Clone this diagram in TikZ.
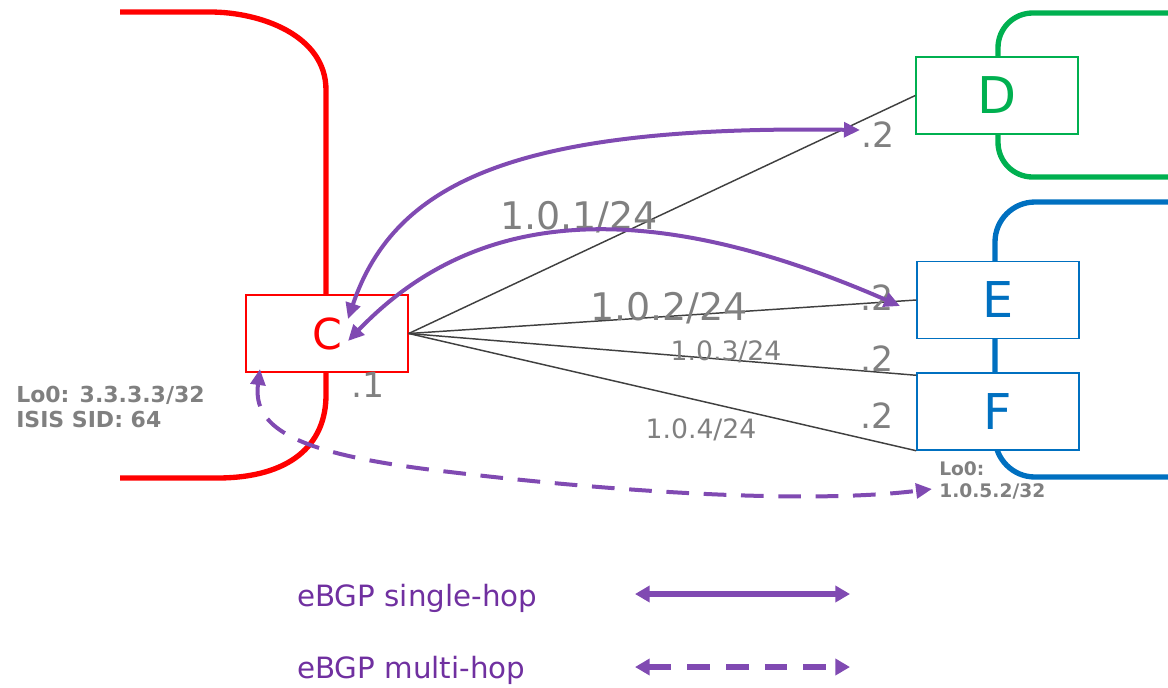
\documentclass[tikz,border=0pt]{standalone}
\usepackage{fontspec}
\setmainfont{DejaVu Sans}
\usetikzlibrary{arrows.meta,calc}
\definecolor{cred}{RGB}{255,0,0}
\definecolor{cgreen}{RGB}{0,176,80}
\definecolor{cblue}{RGB}{0,112,192}
\definecolor{cpurple}{RGB}{128,74,178}
\definecolor{ctext}{RGB}{112,48,160}
\definecolor{cgray}{RGB}{128,128,128}
\begin{document}
\begin{tikzpicture}[x=0.75pt,y=-0.75pt,
  router/.style={draw,line width=1.1pt,fill=white,minimum width=121.5pt,minimum height=57.75pt,inner sep=0pt},
  region/.style={line width=4pt},
  link/.style={draw=black!75,line width=1.1pt},
  bgp/.style={draw=cpurple,line width=3pt,{Triangle[length=12pt,width=11pt]}-{Triangle[length=12pt,width=11pt]}},
  legarrow/.style={draw=cpurple,line width=3.8pt,{Triangle[length=11pt,width=12pt]}-{Triangle[length=11pt,width=12pt]}},
  mh/.style={dash pattern=on 17pt off 11pt},
  mhleg/.style={dash pattern=on 17pt off 12pt},
  big/.style={text=cgray,inner sep=0pt,anchor=base,font={\fontsize{28.5}{32}\selectfont}},
  small/.style={text=cgray,inner sep=0pt,anchor=base,font={\fontsize{20}{23}\selectfont}},
  dot/.style={text=cgray,inner sep=0pt,anchor=base,font={\fontsize{26}{30}\selectfont}},
  lo/.style={text=cgray,inner sep=0pt,anchor=north west,align=left},
  legtext/.style={text=ctext,inner sep=0pt,anchor=base west,font={\fontsize{22}{25}\selectfont}}
]
\useasboundingbox (0,0) rectangle (1168,687);
% regions
\draw[region,cred] (120,12) -- (210,12) .. controls (260,12) and (326,35) .. (326,90)
  -- (326,395) .. controls (326,445) and (290,478) .. (217,478) -- (120,478);
\draw[region,cgreen,rounded corners=26pt] (1170,13) -- (998,13) -- (998,177) -- (1170,177);
\draw[region,cblue,rounded corners=30pt] (1170,202) -- (995,202) -- (995,477) -- (1170,477);
% routers
\node[router,draw=cred,text=cred,font={\fontsize{32}{36}\selectfont}] (C) at (327,333.5) {C};
\node[router,draw=cgreen,text=cgreen,font={\fontsize{38}{42}\selectfont}] (D) at (997,95.5) {D};
\node[router,draw=cblue,text=cblue,font={\fontsize{37}{42}\selectfont}] (E) at (998,300) {E};
\node[router,draw=cblue,text=cblue,font={\fontsize{37}{42}\selectfont}] (F) at (998,411.5) {F};
% links
\draw[link] (C.east) -- (D.west);
\draw[link] (C.east) -- (E.west);
\draw[link] (C.east) -- ($(F.north west)+(0,3)$);
\draw[link] (C.east) -- (F.south west);
% labels
\node[big] (l1) at (579,229) {1.0.1/24};
\node[big] (l2) at (669,320) {1.0.2/24};
\node[small] (l3) at (726,360) {1.0.3/24};
\node[small] (l4) at (701,438) {1.0.4/24};
\node[dot] (dD) at (878,147) {.2};
\node[dot] (dE) at (877,310) {.2};
\node[dot] (dF1) at (877,371) {.2};
\node[dot] (dF2) at (877,428) {.2};
\node[dot] (dC) at (368,397) {.1};
\node[lo,font={\fontsize{16.5}{18.4}\selectfont\bfseries}] (loC) at (16,386) {Lo0: 3.3.3.3/32\\ISIS SID: 64};
\node[lo,font={\fontsize{14}{16.5}\selectfont\bfseries}] (loF) at (939,461) {Lo0:\\1.0.5.2/32};
% bgp sessions
\coordinate (cA) at (348,319);
\coordinate (cB) at (348,341);
\coordinate (cM) at (260,369);
\coordinate (dA) at (860,130);
\coordinate (eA) at (900,306);
\coordinate (fA) at (932,489);
\draw[bgp] (cA) .. controls (395,180) and (520,125) .. (dA);
\draw[bgp] (cB) .. controls (450,235) and (600,175) .. (eA);
\draw[bgp,mh] (cM) .. controls (252,430) and (300,455) .. (450,472) .. controls (600,490) and (800,505) .. (fA);
% legend
\node[legtext] (t1) at (297,606) {eBGP single-hop};
\node[legtext] (t2) at (297,678) {eBGP multi-hop};
\coordinate (a1) at (635,594);
\coordinate (b1) at (850,594);
\coordinate (a2) at (635,667);
\coordinate (b2) at (850,667);
\draw[legarrow] (a1) -- (b1);
\draw[legarrow,mhleg] (a2) -- (b2);
\end{tikzpicture}
\end{document}
